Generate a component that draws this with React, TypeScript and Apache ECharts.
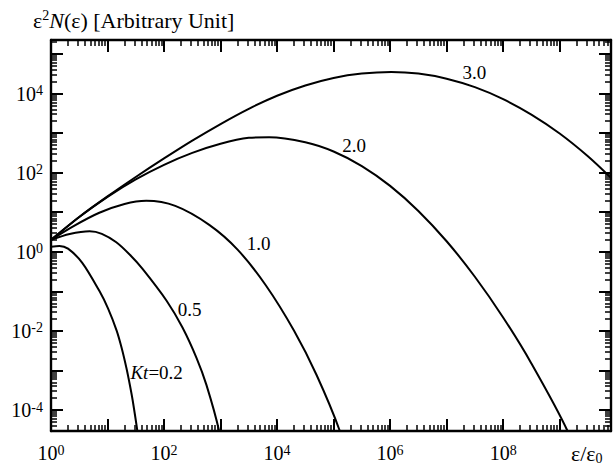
import React, { useEffect, useRef } from "react";
import * as echarts from "echarts";

const FONT = "Liberation Serif, Times New Roman, serif";

// axis ranges (data units)
const xRange: [number, number] = [1, 8.1e9];
const yRange: [number, number] = [2.95e-5, 2.26e5];

// labelled decades
const xLabelExponents = [0, 2, 4, 6, 8];
const yLabelExponents = [-4, -2, 0, 2, 4];

// tick structure
const xDecades = [0, 1, 2, 3, 4, 5, 6, 7, 8, 9];
const yDecades = [-5, -4, -3, -2, -1, 0, 1, 2, 3, 4, 5];
const minorMultipliers = [2, 3, 4, 5, 6, 7, 8, 9];

// curves: [ε/ε0, ε²N(ε)]
const curveKt02: [number, number][] = [
  [1, 1.35], [1.41, 1.41], [2, 1.2], [3.6, 0.52], [7.24, 0.1], [10.2, 0.0372],
  [14.5, 0.0102], [17.8, 3.7e-3], [21.7, 1.12e-3], [25.1, 4e-4], [27.9, 1.74e-4],
  [33.9, 2.8e-5], [39.8, 4.7e-6],
];
const curveKt05: [number, number][] = [
  [1, 2.0], [2.14, 2.82], [4.83, 3.31], [7.94, 2.85], [14.3, 1.74], [25.1, 0.83],
  [41.7, 0.37], [111, 0.058], [212, 0.0122], [375, 2.09e-3], [564, 4.27e-4],
  [944, 2.95e-5], [1100, 6e-6],
];
const curveKt10: [number, number][] = [
  [1, 2.0], [2.51, 4.47], [7.16, 9.7], [20, 16.2], [48.5, 19.4], [158, 14.45], [631, 4.79],
  [2000, 1.135], [6310, 0.143], [2e4, 0.0101], [5e4, 7.67e-4], [1.29e5, 2.95e-5], [1.5e5, 1e-5],
];
const curveKt20: [number, number][] = [
  [1, 2.0], [3.16, 7.6], [10, 24.5], [31.6, 67.6], [100, 158], [316, 316], [1000, 537],
  [3160, 759], [7240, 790], [3.16e4, 589], [1e5, 344], [3.16e5, 147], [1e6, 46.4],
  [3.16e6, 10.8], [1e7, 1.85], [3.16e7, 0.234], [1e8, 0.0219], [3.16e8, 1.51e-3],
  [1.38e9, 2.95e-5], [1.6e9, 1e-5],
];
const curveKt30: [number, number][] = [
  [1, 2.0], [3.16, 7.6], [10, 25.1], [31.6, 77.6], [100, 229], [316, 646], [1000, 1700],
  [3160, 4120], [1e4, 8810], [3.16e4, 16000], [1e5, 24800], [3.16e5, 32000],
  [1.05e6, 35100], [3.16e6, 32000], [1e7, 23800], [3.16e7, 14500], [1e8, 7230],
  [3.16e8, 2940], [1e9, 977], [3.16e9, 260], [8.1e9, 74],
];

const curveNames = ["Kt=0.2", "0.5", "1.0", "2.0", "3.0"];
const curveLabelTexts = ["{i|Kt}=0.2", "0.5", "1.0", "2.0", "3.0"];
const curveLabelAnchors: [number, number][] = [
  [74, 9.1e-4], [283, 0.034], [4700, 1.66], [2.3e5, 500], [3.1e7, 3.5e4],
];

const inRange = (v: number, r: [number, number]) => v >= r[0] * 0.999999 && v <= r[1];
const xMajorTicks = xDecades.map((d) => Math.pow(10, d)).filter((v) => inRange(v, xRange));
const yMajorTicks = yDecades.map((d) => Math.pow(10, d)).filter((v) => inRange(v, yRange));
const xMinorTicks: number[] = [];
xDecades.forEach((d) => minorMultipliers.forEach((m) => {
  const v = m * Math.pow(10, d);
  if (inRange(v, xRange)) xMinorTicks.push(v);
}));
const yMinorTicks: number[] = [];
yDecades.forEach((d) => minorMultipliers.forEach((m) => {
  const v = m * Math.pow(10, d);
  if (inRange(v, yRange)) yMinorTicks.push(v);
}));

export default function App() {
  const ref = useRef<HTMLDivElement>(null);
  useEffect(() => {
    const chart = echarts.init(ref.current!, null, { renderer: "svg" });
    const labelRich = {
      b: { fontSize: 20, fontFamily: FONT, color: "#000", lineHeight: 20 },
      s: { fontSize: 14, fontFamily: FONT, color: "#000", lineHeight: 14, verticalAlign: "top" },
    };
    const makeFormatter = (exps: number[]) => (value: number) => {
      const l = Math.log10(value);
      const e = Math.round(l);
      if (Math.abs(l - e) > 1e-6 || exps.indexOf(e) < 0) return "";
      return `{b|10}{s|${e}}`;
    };
    const curves = [curveKt02, curveKt05, curveKt10, curveKt20, curveKt30];
    const frameLine = { show: true, onZero: false, lineStyle: { color: "#000", width: 2.4 } };
    const noLine = { show: false, onZero: false };
    const majorTick = (vals: number[]) => ({
      show: true, inside: true, length: 12, customValues: vals,
      lineStyle: { color: "#000", width: 2 },
    });
    const minorTick = (vals: number[]) => ({
      show: true, inside: true, length: 6, customValues: vals,
      lineStyle: { color: "#000", width: 1.5 },
    });
    const logAxis = (range: [number, number], position: string, extra: any) => ({
      type: "log", logBase: 10, min: range[0], max: range[1], position,
      splitLine: { show: false }, axisLabel: { show: false }, ...extra,
    });
    const option: any = {
      animation: false,
      backgroundColor: "#fff",
      grid: { left: 51, right: 1.5, top: 40, bottom: 35, containLabel: false },
      xAxis: [
        logAxis(xRange, "bottom", {
          axisLine: frameLine, axisTick: majorTick(xMajorTicks),
          axisLabel: { show: true, formatter: makeFormatter(xLabelExponents), rich: labelRich, margin: 12 },
        }),
        logAxis(xRange, "top", { axisLine: frameLine, axisTick: majorTick(xMajorTicks) }),
        logAxis(xRange, "bottom", { axisLine: noLine, axisTick: minorTick(xMinorTicks) }),
        logAxis(xRange, "top", { axisLine: noLine, axisTick: minorTick(xMinorTicks) }),
      ],
      yAxis: [
        logAxis(yRange, "left", {
          axisLine: frameLine, axisTick: majorTick(yMajorTicks),
          axisLabel: { show: true, formatter: makeFormatter(yLabelExponents), rich: labelRich, margin: 8 },
        }),
        logAxis(yRange, "right", { axisLine: frameLine, axisTick: majorTick(yMajorTicks) }),
        logAxis(yRange, "left", { axisLine: noLine, axisTick: minorTick(yMinorTicks) }),
        logAxis(yRange, "right", { axisLine: noLine, axisTick: minorTick(yMinorTicks) }),
      ],
      graphic: {
        elements: [
          {
            id: "title", type: "text", left: 33, top: 8,
            style: {
              text: "{g|ε}{s|2}{n|N}{g|(ε) [Arbitrary Unit]}",
              rich: {
                g: { fontSize: 22, fontFamily: FONT, fill: "#000", lineHeight: 24 },
                n: { fontSize: 22, fontFamily: FONT, fontStyle: "italic", fill: "#000", lineHeight: 24 },
                s: { fontSize: 14, fontFamily: FONT, fill: "#000", lineHeight: 14, verticalAlign: "top" },
              },
            },
          },
          {
            id: "xname", type: "text", left: 571, top: 442,
            style: {
              text: "{g|ε/ε}{u|0}",
              rich: {
                g: { fontSize: 22, fontFamily: FONT, fill: "#000", lineHeight: 24 },
                u: { fontSize: 14, fontFamily: FONT, fill: "#000", lineHeight: 14, verticalAlign: "bottom" },
              },
            },
          },
        ],
      },
      series: curves.map((c, i) => ({
        name: curveNames[i], type: "line", data: c, showSymbol: false, symbol: "none",
        smooth: 0.3, clip: true, xAxisIndex: 0, yAxisIndex: 0,
        lineStyle: { color: "#000", width: 2 }, silent: true,
        markPoint: i === 0 ? {
          silent: true, symbol: "circle", symbolSize: 0,
          itemStyle: { color: "rgba(0,0,0,0)" },
          label: {
            show: true, position: "inside", color: "#000", fontSize: 19, fontFamily: FONT,
            formatter: (p: any) => p.name,
            rich: { i: { fontSize: 19, fontFamily: FONT, fontStyle: "italic", color: "#000" } },
          },
          data: curveLabelAnchors.map((a, k) => ({ name: curveLabelTexts[k], coord: a })),
        } : undefined,
      })),
    };
    chart.setOption(option);
    return () => chart.dispose();
  }, []);
  return (
    <div
      ref={ref}
      style={{ position: "fixed", left: 0, top: 0, width: 614, height: 466, background: "#fff" }}
    />
  );
}
